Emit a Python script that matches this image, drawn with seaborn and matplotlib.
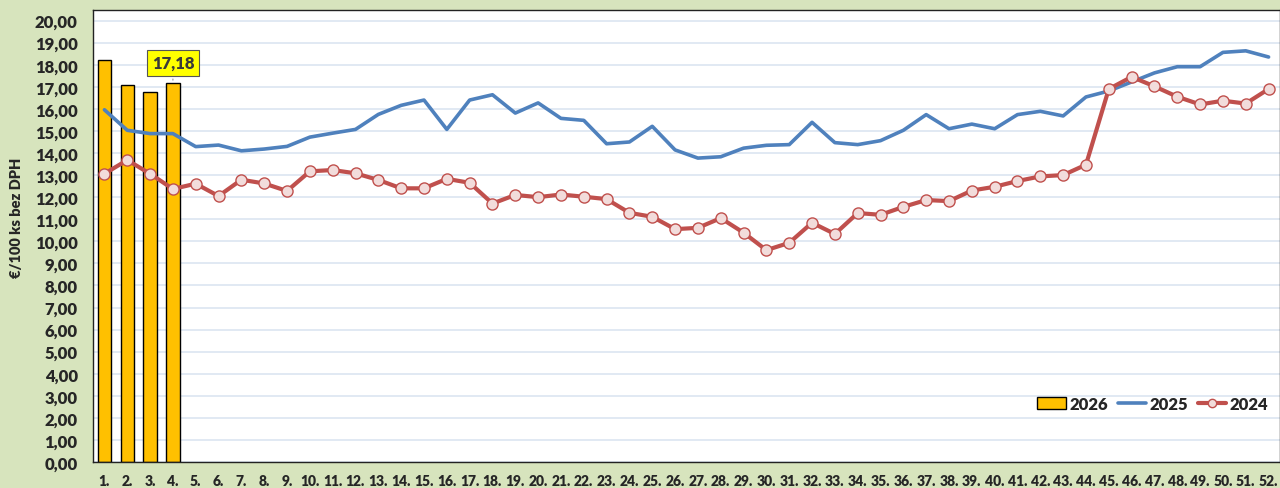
import numpy as np
import pandas as pd
import seaborn as sns
import matplotlib
matplotlib.use("Agg")
import matplotlib.pyplot as plt
from matplotlib.patches import Patch
from matplotlib.lines import Line2D
from matplotlib.ticker import FuncFormatter, MultipleLocator

weeks = list(range(1, 53))
week_labels = [f"{w}." for w in weeks]

price_2026 = [18.20, 17.07, 16.77, 17.18]

price_2025 = [15.96, 15.03, 14.88, 14.88, 14.29, 14.36, 14.10, 14.18, 14.30, 14.72,
              14.90, 15.07, 15.75, 16.16, 16.40, 15.07, 16.40, 16.64, 15.81, 16.27,
              15.57, 15.48, 14.42, 14.50, 15.21, 14.14, 13.77, 13.83, 14.22, 14.35,
              14.38, 15.39, 14.47, 14.38, 14.56, 15.03, 15.74, 15.10, 15.31, 15.10,
              15.74, 15.89, 15.68, 16.54, 16.81, 17.22, 17.63, 17.91, 17.91, 18.56,
              18.63, 18.35]

price_2024 = [13.06, 13.68, 13.06, 12.37, 12.61, 12.05, 12.79, 12.62, 12.28, 13.17,
              13.23, 13.08, 12.78, 12.40, 12.40, 12.83, 12.65, 11.71, 12.10, 12.00,
              12.12, 12.02, 11.91, 11.29, 11.11, 10.55, 10.61, 11.05, 10.39, 9.60,
              9.93, 10.84, 10.33, 11.28, 11.20, 11.56, 11.87, 11.82, 12.30, 12.47,
              12.73, 12.94, 13.00, 13.47, 16.90, 17.45, 17.02, 16.55, 16.20, 16.37,
              16.24, 16.90]

BG = "#D7E4BD"
BAR = "#FFC000"
BLUE = "#4F81BD"
RED = "#C0504D"
PINK = "#F2DCDB"

sns.set_style("white")
plt.rcParams["font.family"] = ["Lato", "DejaVu Sans"]
plt.rcParams["font.weight"] = "bold"

fig = plt.figure(figsize=(12.8, 4.89), dpi=100, facecolor=BG)
ax = fig.add_axes([93 / 1280, 26 / 489, 1 - 93 / 1280, 452 / 489])
ax.set_facecolor("white")

bars = pd.DataFrame({"week": week_labels[:len(price_2026)], "price": price_2026})
sns.barplot(data=bars, x="week", y="price", order=week_labels, color=BAR,
            saturation=1, width=0.58, edgecolor="black", linewidth=1, ax=ax, zorder=2)

lines = pd.DataFrame({"pos": np.arange(len(weeks)), "y2025": price_2025, "y2024": price_2024})
sns.lineplot(data=lines, x="pos", y="y2025", color=BLUE, linewidth=2.6, ax=ax, zorder=3)
sns.lineplot(data=lines, x="pos", y="y2024", color=RED, linewidth=3, marker="o",
             markersize=8, markerfacecolor=PINK, markeredgecolor=RED,
             markeredgewidth=1, ax=ax, zorder=4)

ax.set_xlim(-0.5, len(weeks) - 0.5)
ax.set_ylim(0, 20.48)
ax.yaxis.set_major_locator(MultipleLocator(1))
ax.yaxis.set_major_formatter(FuncFormatter(lambda v, p: f"{v:.2f}".replace(".", ",")))
ax.set_xticks(np.arange(len(weeks)))
ax.set_xticklabels(week_labels)
ax.grid(axis="y", color="#DCE5F1", linewidth=1.2, zorder=0)
ax.set_axisbelow(True)
ax.tick_params(axis="y", length=0, pad=11, labelsize=12)
ax.tick_params(axis="x", length=0, pad=9, labelsize=10)
for t in ax.get_xticklabels() + ax.get_yticklabels():
    t.set_fontweight("heavy")
for s in ax.spines.values():
    s.set_color("#222222")
    s.set_linewidth(1)
ax.set_xlabel("")
ax.set_ylabel("")

fig.text(17 / 1280, 1 - 218 / 489, "€/100 ks bez DPH", rotation=90, ha="center",
         va="center", fontsize=10.5, fontweight="heavy")

last = len(price_2026) - 1
ax.annotate(f"{price_2026[last]:.2f}".replace(".", ","), xy=(last, price_2026[last]),
            xytext=(last, 18.08), ha="center", va="center", fontsize=12,
            fontweight="heavy", color="#3A3A3A",
            bbox=dict(boxstyle="square,pad=0.3", fc="#FFFF00", ec="#555555", lw=0.8),
            arrowprops=dict(arrowstyle="-", color="#A6A6A6", lw=1), zorder=5)

handles = [Patch(facecolor=BAR, edgecolor="black", linewidth=1, label="2026"),
           Line2D([], [], color=BLUE, linewidth=2.6, label="2025"),
           Line2D([], [], color=RED, linewidth=3, marker="o", markersize=6,
                  markerfacecolor=PINK, markeredgecolor=RED, label="2024")]
ax.legend(handles=handles, ncol=3, loc="center right", bbox_to_anchor=(1.0, 0.128),
          frameon=False, prop={"weight": "heavy", "size": 12}, handlelength=1.7,
          handletextpad=0.2, columnspacing=0.6, borderaxespad=0.3)

fig.savefig("out.png", dpi=100, facecolor=BG)
